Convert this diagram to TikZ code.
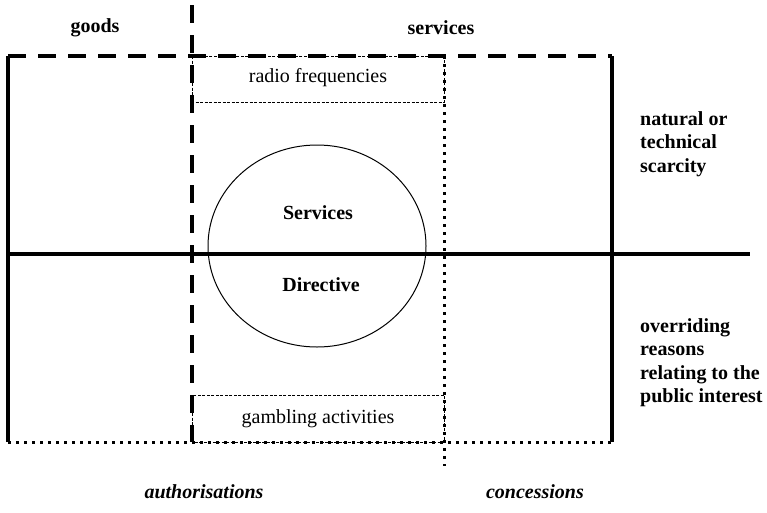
\documentclass[tikz,border=0pt]{standalone}
\usepackage{fontspec}
\setmainfont{Liberation Serif}
\begin{document}
\begin{tikzpicture}[x=1pt,y=-1pt,
  thickline/.style={line width=3.2pt},
  dashline/.style={line width=3.2pt, dash pattern=on 18pt off 12pt},
  dotline/.style={line width=3pt, dash pattern=on 3pt off 5pt},
  boxline/.style={line width=1pt, dash pattern=on 3pt off 1.5pt},
  lab/.style={font=\fontsize{20}{24}\selectfont\bfseries, inner sep=0pt},
  side/.style={font=\fontsize{20}{23.5}\selectfont\bfseries, inner sep=0pt, align=left, anchor=north west},
  boxtext/.style={font=\fontsize{20}{24}\selectfont, inner sep=0pt},
  foot/.style={font=\fontsize{20}{24}\selectfont\bfseries\itshape, inner sep=0pt}]
\useasboundingbox (0,0) rectangle (767,512);
% small boxes
\draw[boxline] (192,56) rectangle (444,102);
\draw[boxline] (192,395) rectangle (444,442);
% big frame
\draw[thickline] (8,56) -- (8,442);
\draw[thickline] (612,56) -- (612,442);
\draw[dashline] (8,56) -- (612,56);
\draw[dotline] (8,442) -- (612,442);
% dividing lines
\draw[dashline] (192,5) -- (192,442);
\draw[dotline] (444,56) -- (444,466);
\draw[thickline] (8,254) -- (750,254);
% ellipse
\draw[line width=1pt] (317,246) ellipse [x radius=109, y radius=101];
% texts
\node[lab] (goods) at (95,28) {goods};
\node[lab] (services) at (441,28) {services};
\node[boxtext] (radio) at (318,78) {radio frequencies};
\node[boxtext] (gamb) at (318,419) {gambling activities};
\node[lab] (sd1) at (318,213) {Services};
\node[lab] (sd2) at (321,285) {Directive};
\node[side] (scar) at (640,111) {natural or\\technical\\scarcity};
\node[side] (over) at (640,318) {overriding\\reasons\\relating to the\\public interest};
\node[foot] (auth) at (204,492) {authorisations};
\node[foot] (conc) at (535,492) {concessions};
\end{tikzpicture}
\end{document}
